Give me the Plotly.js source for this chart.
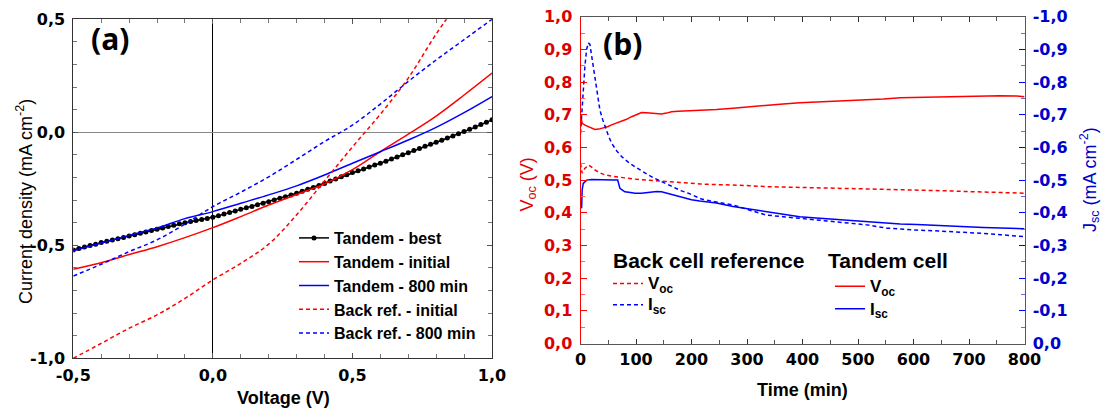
<!DOCTYPE html>
<html><head><meta charset="utf-8">
<script src="https://cdn.plot.ly/plotly-3.0.1.min.js"></script>
<style>html,body{margin:0;padding:0;background:#fff}</style>
</head><body><div id="chart" style="width:1107px;height:411px"></div>
<script>
// ---------- Panel (a): J-V curves ----------
const vBest = [-0.50,-0.48,-0.46,-0.44,-0.42,-0.40,-0.38,-0.36,-0.34,-0.32,-0.30,-0.28,-0.26,-0.24,-0.22,-0.20,-0.18,-0.16,-0.14,-0.12,-0.10,-0.08,-0.06,-0.04,-0.02,0.00,0.02,0.04,0.06,0.08,0.10,0.12,0.14,0.16,0.18,0.20,0.22,0.24,0.26,0.28,0.30,0.32,0.34,0.36,0.38,0.40,0.42,0.44,0.46,0.48,0.50,0.52,0.54,0.56,0.58,0.60,0.62,0.64,0.66,0.68,0.70,0.72,0.74,0.76,0.78,0.80,0.82,0.84,0.86,0.88,0.90,0.92,0.94,0.96,0.98,1.00];
const jBest = [-0.521,-0.514,-0.508,-0.501,-0.495,-0.488,-0.482,-0.476,-0.471,-0.465,-0.459,-0.453,-0.447,-0.441,-0.435,-0.429,-0.423,-0.417,-0.411,-0.405,-0.400,-0.395,-0.390,-0.386,-0.381,-0.376,-0.369,-0.362,-0.355,-0.348,-0.341,-0.334,-0.328,-0.321,-0.314,-0.307,-0.300,-0.292,-0.285,-0.277,-0.270,-0.261,-0.252,-0.244,-0.235,-0.226,-0.216,-0.207,-0.197,-0.188,-0.178,-0.170,-0.162,-0.154,-0.145,-0.137,-0.128,-0.118,-0.109,-0.099,-0.090,-0.081,-0.072,-0.062,-0.053,-0.044,-0.035,-0.025,-0.016,-0.006,0.003,0.013,0.023,0.034,0.044,0.055];
const vScan = [-0.5,-0.4,-0.3,-0.2,-0.1,0.0,0.1,0.2,0.3,0.4,0.5,0.6,0.7,0.8,0.9,1.0];
const jTandemInitial = [-0.606,-0.577,-0.541,-0.506,-0.466,-0.422,-0.373,-0.322,-0.275,-0.228,-0.165,-0.085,-0.008,0.072,0.165,0.262];
const jTandem800 = [-0.524,-0.490,-0.456,-0.423,-0.382,-0.351,-0.314,-0.277,-0.237,-0.189,-0.137,-0.086,-0.034,0.022,0.087,0.158];
const vBackInitial = [-0.5,-0.4,-0.3,-0.2,-0.1,0.0,0.1,0.2,0.3,0.4,0.5,0.6,0.7,0.8,0.9];
const jBackInitial = [-1.000,-0.934,-0.867,-0.808,-0.735,-0.653,-0.580,-0.495,-0.365,-0.215,-0.065,0.080,0.240,0.435,0.610];
const jBack800 = [-0.636,-0.584,-0.528,-0.476,-0.406,-0.329,-0.265,-0.197,-0.120,-0.041,0.032,0.125,0.225,0.320,0.410,0.500];
const namesA = ['Tandem - best','Tandem - initial','Tandem - 800 min','Back ref. - initial','Back ref. - 800 min'];

// ---------- Panel (b): stability over time ----------
const tTandemVoc = [0,3,8,14,20,26,33,41,50,56,65,74,83,92,101,110,119,128,137,146,155,164,176,188,200,215,245,275,305,335,365,395,425,455,485,516,546,576,606,636,666,696,726,756,786,800];
const vocTandem = [0.699,0.674,0.668,0.663,0.659,0.655,0.656,0.659,0.664,0.669,0.674,0.679,0.686,0.694,0.701,0.707,0.706,0.704,0.703,0.702,0.705,0.709,0.711,0.712,0.713,0.712,0.716,0.720,0.725,0.730,0.733,0.737,0.739,0.742,0.744,0.745,0.748,0.752,0.753,0.755,0.756,0.758,0.758,0.758,0.757,0.755];
const tBackVoc = [0,3,8,15,20,26,35,44,56,68,83,98,120,140,165,188,215,245,275,305,335,365,395,425,455,485,516,546,576,606,636,666,696,726,756,800];
const vocBack = [0.551,0.521,0.536,0.546,0.540,0.531,0.522,0.516,0.512,0.509,0.506,0.503,0.500,0.498,0.495,0.492,0.488,0.487,0.485,0.483,0.480,0.479,0.478,0.477,0.475,0.474,0.472,0.471,0.470,0.469,0.468,0.467,0.465,0.464,0.463,0.460];
const tBackJsc = [0,2,5,8,11,14,17,20,26,30,35,40,44,50,56,65,74,86,98,110,122,134,146,158,170,182,194,206,218,242,275,305,335,365,395,425,455,485,516,552,576,606,636,666,696,726,756,800];
const jscBack = [-0.643,-0.700,-0.780,-0.850,-0.900,-0.920,-0.915,-0.880,-0.806,-0.760,-0.714,-0.685,-0.663,-0.637,-0.613,-0.590,-0.572,-0.555,-0.541,-0.528,-0.516,-0.505,-0.495,-0.485,-0.475,-0.467,-0.460,-0.451,-0.442,-0.434,-0.424,-0.408,-0.393,-0.388,-0.383,-0.378,-0.373,-0.368,-0.363,-0.353,-0.350,-0.347,-0.345,-0.343,-0.340,-0.337,-0.333,-0.327];
const tTandemJsc = [2,3,5,8,11,20,30,40,50,60,67,69,71,75,80,90,98,110,122,128,137,146,155,164,176,188,200,215,230,245,275,305,335,365,395,425,455,485,516,546,576,606,636,666,696,726,756,786,800];
const jscTandem = [-0.414,-0.470,-0.490,-0.495,-0.500,-0.502,-0.501,-0.500,-0.500,-0.500,-0.500,-0.485,-0.475,-0.470,-0.464,-0.462,-0.460,-0.460,-0.463,-0.464,-0.465,-0.464,-0.460,-0.454,-0.449,-0.444,-0.440,-0.436,-0.434,-0.430,-0.419,-0.411,-0.403,-0.395,-0.388,-0.384,-0.380,-0.377,-0.373,-0.370,-0.366,-0.364,-0.361,-0.359,-0.357,-0.355,-0.353,-0.352,-0.351];

// ---------- tick labels ----------
const tickValsAX = [-0.5,0,0.5,1.0];
const tickTextAX = ['-0,5','0,0','0,5','1,0'];
const tickValsAY = [-1.0,-0.5,0,0.5];
const tickTextAY = ['-1,0','-0,5','0,0','0,5'];
const tickValsBX = [0,100,200,300,400,500,600,700,800];
const tickValsBL = [0,0.1,0.2,0.3,0.4,0.5,0.6,0.7,0.8,0.9,1.0];
const tickTextBL = ['0,0','0,1','0,2','0,3','0,4','0,5','0,6','0,7','0,8','0,9','1,0'];
const tickValsBR = [0,-0.1,-0.2,-0.3,-0.4,-0.5,-0.6,-0.7,-0.8,-0.9,-1.0];
const tickTextBR = ['0,0','-0,1','-0,2','-0,3','-0,4','-0,5','-0,6','-0,7','-0,8','-0,9','-1,0'];

const RED = '#ff0000', BLUE = '#0000ff';
const DASH = '4px,3px';
const W = 1107, H = 411;
const px = v => v / W, py = v => 1 - v / H;
const SANS = 'Liberation Sans, Arial, sans-serif';
const big = t => '<span style="font-size:17px">' + t + '</span>';

const traces = [
  {x: vBest, y: jBest, name: namesA[0], mode: 'lines+markers', line: {color: '#000', width: 1.5}, marker: {color: '#000', size: 5}, xaxis: 'x', yaxis: 'y', legend: 'legend'},
  {x: vScan, y: jTandemInitial, name: namesA[1], mode: 'lines', line: {color: RED, width: 1.5, shape: 'spline'}, xaxis: 'x', yaxis: 'y', legend: 'legend'},
  {x: vScan, y: jTandem800, name: namesA[2], mode: 'lines', line: {color: BLUE, width: 1.5, shape: 'spline'}, xaxis: 'x', yaxis: 'y', legend: 'legend'},
  {x: vBackInitial, y: jBackInitial, name: namesA[3], mode: 'lines', line: {color: RED, width: 1.5, dash: DASH, shape: 'spline'}, xaxis: 'x', yaxis: 'y', legend: 'legend'},
  {x: vScan, y: jBack800, name: namesA[4], mode: 'lines', line: {color: BLUE, width: 1.5, dash: DASH, shape: 'spline'}, xaxis: 'x', yaxis: 'y', legend: 'legend'},

  {x: tBackVoc, y: vocBack, name: big('V<sub>oc</sub>'), mode: 'lines', line: {color: RED, width: 1.5, dash: DASH}, xaxis: 'x2', yaxis: 'y2', legend: 'legend2'},
  {x: tBackJsc, y: jscBack, name: big('I<sub>sc</sub>'), mode: 'lines', line: {color: BLUE, width: 1.5, dash: DASH}, xaxis: 'x2', yaxis: 'y3', legend: 'legend2'},
  {x: tTandemVoc, y: vocTandem, name: big('V<sub>oc</sub>'), mode: 'lines', line: {color: RED, width: 1.5}, xaxis: 'x2', yaxis: 'y2', legend: 'legend3'},
  {x: tTandemJsc, y: jscTandem, name: big('I<sub>sc</sub>'), mode: 'lines', line: {color: BLUE, width: 1.5}, xaxis: 'x2', yaxis: 'y3', legend: 'legend3'}
];

const tickFont = {family: 'DejaVu Sans, sans-serif', size: 16, weight: 'bold', color: '#000'};

const layout = {
  width: W, height: H,
  margin: {l: 0, r: 0, t: 0, b: 0},
  paper_bgcolor: '#fff', plot_bgcolor: '#fff',
  font: {family: SANS, color: '#000'},
  showlegend: true,
  xaxis: {domain: [px(73.3), px(492)], range: [-0.5, 1.0], tickvals: tickValsAX, ticktext: tickTextAX,
    ticks: 'inside', ticklen: 5, tickcolor: '#555', showline: true, linecolor: '#333', linewidth: 1, mirror: 'ticks',
    zeroline: true, zerolinecolor: '#000', zerolinewidth: 1, showgrid: false, tickfont: tickFont, ticklabelstandoff: 2,
    minor: {dtick: 0.1, tick0: 0, ticks: 'inside', ticklen: 4, tickcolor: '#777', showgrid: false}, anchor: 'y', fixedrange: true},
  yaxis: {domain: [py(358.3), py(19.3)], range: [-1.0, 0.5], tickvals: tickValsAY, ticktext: tickTextAY,
    ticks: 'inside', ticklen: 5, tickcolor: '#555', showline: true, linecolor: '#333', linewidth: 1, mirror: 'ticks',
    zeroline: true, zerolinecolor: '#888', zerolinewidth: 1, showgrid: false, tickfont: tickFont, ticklabelstandoff: 4,
    minor: {dtick: 0.1, tick0: 0, ticks: 'inside', ticklen: 4, tickcolor: '#777', showgrid: false}, anchor: 'x', fixedrange: true},
  xaxis2: {domain: [px(580.5), px(1024.5)], range: [0, 800], tickvals: tickValsBX,
    ticks: 'inside', ticklen: 5, tickcolor: '#333', showline: true, linecolor: '#555', linewidth: 1, mirror: 'ticks',
    zeroline: false, showgrid: false, tickfont: tickFont, ticklabelstandoff: 1,
    minor: {dtick: 50, ticks: 'inside', ticklen: 4, tickcolor: '#555', showgrid: false}, anchor: 'y2', fixedrange: true},
  yaxis2: {domain: [py(343.5), py(16.7)], range: [0, 1.0], tickvals: tickValsBL, ticktext: tickTextBL,
    ticks: 'inside', ticklen: 6, tickcolor: RED, showline: true, linecolor: RED, linewidth: 1,
    zeroline: false, showgrid: false, tickfont: Object.assign({}, tickFont, {color: '#dd0000'}), ticklabelstandoff: 4,
    minor: {dtick: 0.05, ticks: 'inside', ticklen: 4, tickcolor: '#ff6666', showgrid: false}, anchor: 'x2', fixedrange: true},
  yaxis3: {domain: [py(343.5), py(16.7)], range: [0, -1.0], tickvals: tickValsBR, ticktext: tickTextBR,
    overlaying: 'y2', side: 'right', anchor: 'x2',
    ticks: 'inside', ticklen: 6, tickcolor: BLUE, showline: true, linecolor: '#4444ff', linewidth: 1,
    zeroline: false, showgrid: false, tickfont: Object.assign({}, tickFont, {color: '#0000cc'}), ticklabelstandoff: 4,
    minor: {dtick: 0.05, ticks: 'inside', ticklen: 4, tickcolor: '#6666ff', showgrid: false}, fixedrange: true},
  legend: {x: px(294), y: py(221), xanchor: 'left', yanchor: 'top', bgcolor: 'rgba(0,0,0,0)', borderwidth: 0,
    font: {family: SANS, size: 16, weight: 'bold', color: '#000'}, tracegroupgap: 0, itemclick: false},
  legend2: {x: px(608), y: py(268), xanchor: 'left', yanchor: 'top', bgcolor: 'rgba(0,0,0,0)', borderwidth: 0,
    font: {family: SANS, size: 14, weight: 'bold', color: '#000'}, tracegroupgap: 0, itemclick: false},
  legend3: {x: px(830), y: py(270), xanchor: 'left', yanchor: 'top', bgcolor: 'rgba(0,0,0,0)', borderwidth: 0,
    font: {family: SANS, size: 15, weight: 'bold', color: '#000'}, tracegroupgap: 0, itemclick: false},
  annotations: [
    {text: '(a)', x: px(110), y: py(38.7), xref: 'paper', yref: 'paper', showarrow: false, xanchor: 'center', yanchor: 'middle',
      font: {family: 'Open Sans, sans-serif', size: 30, weight: 'bold', color: '#000'}},
    {text: '(b)', x: px(622.5), y: py(44), xref: 'paper', yref: 'paper', showarrow: false, xanchor: 'center', yanchor: 'middle',
      font: {family: 'Open Sans, sans-serif', size: 30, weight: 'bold', color: '#000'}},
    {text: 'Back cell reference', x: px(611), y: py(260), xref: 'paper', yref: 'paper', showarrow: false, xanchor: 'left', yanchor: 'middle',
      font: {family: SANS, size: 21, weight: 'bold', color: '#000'}},
    {text: 'Tandem cell', x: px(826), y: py(260), xref: 'paper', yref: 'paper', showarrow: false, xanchor: 'left', yanchor: 'middle',
      font: {family: SANS, size: 21, weight: 'bold', color: '#000'}},
    {text: 'Voltage (V)', x: px(283), y: py(398), xref: 'paper', yref: 'paper', showarrow: false, xanchor: 'center', yanchor: 'middle',
      font: {size: 18, weight: 'bold', color: '#000'}},
    {text: 'Current density (mA cm<sup>-2</sup>)', x: px(24), y: py(202), xref: 'paper', yref: 'paper', showarrow: false, textangle: -90,
      xanchor: 'center', yanchor: 'middle', font: {size: 18, color: '#000'}},
    {text: 'Time (min)', x: px(802), y: py(390), xref: 'paper', yref: 'paper', showarrow: false, xanchor: 'center', yanchor: 'middle',
      font: {size: 18, weight: 'bold', color: '#000'}},
    {text: 'V<sub>oc</sub> (V)', x: px(528), y: py(184.5), xref: 'paper', yref: 'paper', showarrow: false, textangle: -90,
      xanchor: 'center', yanchor: 'middle', font: {size: 18, color: '#dd0000'}},
    {text: 'J<sub>sc</sub> (mA cm<sup>-2</sup>)', x: px(1089), y: py(180), xref: 'paper', yref: 'paper', showarrow: false, textangle: -90,
      xanchor: 'center', yanchor: 'middle', font: {size: 18, color: '#0000cc'}}
  ]
};

Plotly.newPlot('chart', traces, layout, {staticPlot: true, displayModeBar: false});
</script></body></html>
